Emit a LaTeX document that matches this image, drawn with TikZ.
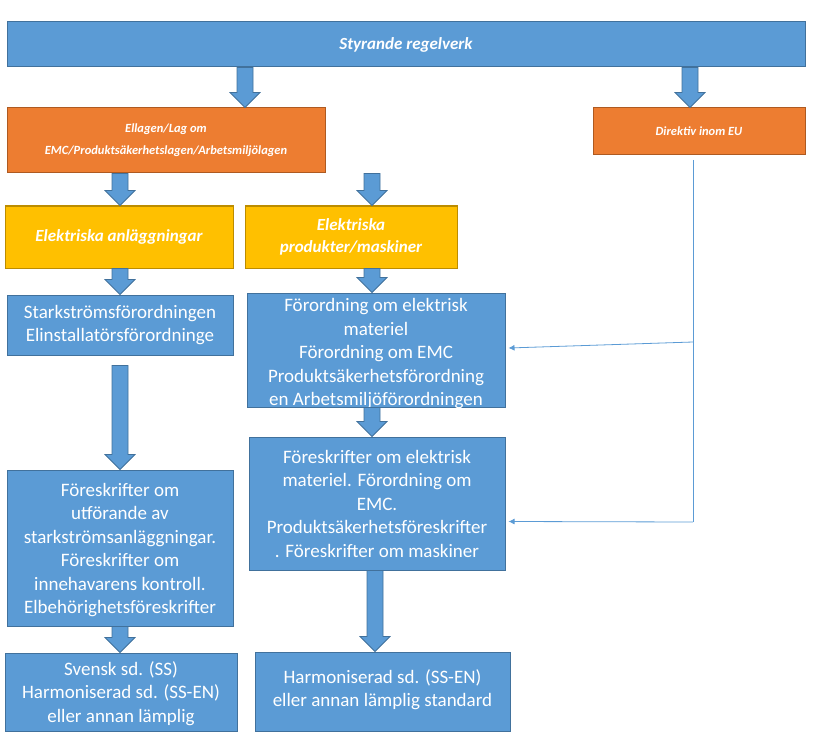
\documentclass[tikz,border=0pt]{standalone}
\usepackage{fontspec}
\setmainfont{Carlito}
\usetikzlibrary{calc,arrows.meta}
\definecolor{bl}{HTML}{5B9BD5}
\definecolor{bld}{HTML}{41719C}
\definecolor{org}{HTML}{ED7D31}
\definecolor{orgd}{HTML}{AE5A21}
\definecolor{yel}{HTML}{FFC000}
\definecolor{yeld}{HTML}{BC8C00}
\tikzset{
 box/.style={draw=bld, fill=bl, line width=1pt, text=white, align=center, inner sep=0pt, font=\fontsize{19}{23.5}\selectfont},
 obox/.style={box, draw=orgd, fill=org, font=\fontsize{12.5}{22}\selectfont\bfseries\itshape},
 ybox/.style={box, draw=yeld, fill=yel, font=\fontsize{17}{22}\selectfont\bfseries\itshape},
 barrow/.style={draw=bld, fill=bl, line width=0.8pt},
 thin/.style={draw=bl, line width=0.8pt},
}
\newcommand\rbox[6]{\node[#1, minimum width=#4pt-#2pt, minimum height=#5pt-#3pt] (#6) at ({(#2+#4)/2},{(#3+#5)/2}) {};}
\newcommand\blockarrow[3]{\path[barrow] let \p1=(#2), \p2=(#3), \p3=(#1,0) in
 (\x3-8pt,\y1) -- (\x3+8pt,\y1) -- (\x3+8pt,\y2+15pt) -- (\x3+15pt,\y2+15pt) -- (\x3,\y2) -- (\x3-15pt,\y2+15pt) -- (\x3-8pt,\y2+15pt) -- cycle;}
\begin{document}
\begin{tikzpicture}[x=1pt,y=-1pt]
\useasboundingbox (0,0) rectangle (816,746);
\rbox{box}{7}{22}{805}{67}{top}
\node[font=\fontsize{17}{24}\selectfont\bfseries\itshape, text=white] at (top) {Styrande regelverk};
\rbox{obox}{7}{108}{325}{173}{o1}
\node[obox, draw=none, fill=none] at (o1) {Ellagen/Lag om\\EMC/Produktsäkerhetslagen/Arbetsmiljölagen};
\rbox{obox}{593}{108}{805}{155}{eu}
\node[obox, draw=none, fill=none] at (eu) {Direktiv inom EU};
\rbox{ybox}{5}{206}{233}{268}{y1}
\node[ybox, draw=none, fill=none] at (y1) {Elektriska anläggningar};
\rbox{ybox}{245}{206}{457}{268}{y2}
\node[ybox, draw=none, fill=none] at (y2) {Elektriska\\produkter/maskiner};
\rbox{box}{7}{295}{233}{355}{l1}
\node[box, draw=none, fill=none] at (l1) {Starkströmsförordningen\\Elinstallatörsförordninge};
\rbox{box}{247}{293}{505}{407}{r1}
\node[box, draw=none, fill=none] at ($(r1)+(0,4)$) {Förordning om elektrisk\\materiel\\Förordning om EMC\\Produktsäkerhetsförordning\\en Arbetsmiljöförordningen};
\rbox{box}{7}{470}{233}{626}{l2}
\node[box, draw=none, fill=none] at ($(l2)+(0,2)$) {Föreskrifter om\\utförande av\\starkströmsanläggningar.\\Föreskrifter om\\innehavarens kontroll.\\Elbehörighetsföreskrifter};
\rbox{box}{249}{437}{505}{570}{r2}
\node[box, draw=none, fill=none] at (r2) {Föreskrifter om elektrisk\\materiel. Förordning om\\EMC.\\Produktsäkerhetsföreskrifter\\. Föreskrifter om maskiner};
\rbox{box}{5}{653}{237}{731}{l3}
\begin{scope}
\clip (5,653) rectangle (237,730);
\node[box, draw=none, fill=none, anchor=north] at (121,661) {Svensk sd. (SS)\\Harmoniserad sd. (SS-EN)\\eller annan lämplig\\standard};
\end{scope}
\rbox{box}{255}{652}{510}{731}{r3}
\node[box, draw=none, fill=none] at ($(r3)+(0,-2)$) {Harmoniserad sd. (SS-EN)\\eller annan lämplig standard};
% block arrows
\blockarrow{245}{top.south}{o1.north}
\blockarrow{690}{top.south}{eu.north}
\blockarrow{120}{o1.south}{y1.north}
\blockarrow{372}{o1.south}{y2.north}
\blockarrow{120}{y1.south}{l1.north}
\blockarrow{372}{y2.south}{r1.north}
\coordinate (l1b) at ($(l1.south)+(0,10)$);
\blockarrow{120}{l1b}{l2.north}
\blockarrow{372}{r1.south}{r2.north}
\blockarrow{120}{l2.south}{l3.north}
\blockarrow{375}{r2.south}{r3.north}
% EU connectors
\coordinate (eu1) at (693,160);
\coordinate (eu2) at (693,342);
\coordinate (eu3) at (693,522);
\draw[thin] (eu1) -- (eu3);
\draw[thin, -{Latex[length=6pt,width=6pt]}] (eu2) -- ($(r1.east)+(3,-2)$);
\draw[thin, -{Latex[length=6pt,width=6pt]}] (eu3) -- ($(r2.east)+(3,18)$);
\end{tikzpicture}
\end{document}
